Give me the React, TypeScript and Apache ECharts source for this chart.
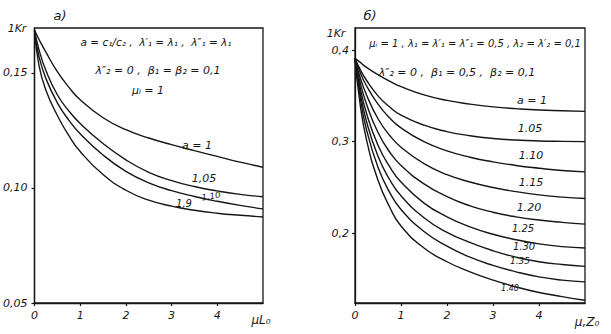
import React, { useEffect, useRef } from "react";
import * as echarts from "echarts";

// ---------- Panel а) ----------
const leftCurveNames = ["a = 1", "1,05", "1,10", "1,9"];
const leftA100: number[][] = [
  [0, 0.1685], [0.1, 0.1645], [0.25, 0.159], [0.5, 0.1505], [0.75, 0.1438], [1, 0.1383], [1.5, 0.1305],
  [2, 0.1253], [2.5, 0.1217], [3, 0.1188], [3.5, 0.1162], [4, 0.1137], [4.5, 0.1112], [5, 0.109],
];
const leftA105: number[][] = [
  [0, 0.1685], [0.1, 0.16], [0.25, 0.151], [0.5, 0.1405], [0.75, 0.1335], [1, 0.128], [1.5, 0.1193],
  [2, 0.1122], [2.5, 0.1068], [3, 0.1032], [3.5, 0.1006], [4, 0.0987], [4.5, 0.0972], [5, 0.0962],
];
const leftA110: number[][] = [
  [0, 0.1685], [0.1, 0.157], [0.25, 0.1475], [0.5, 0.137], [0.75, 0.1295], [1, 0.1235], [1.5, 0.1143],
  [2, 0.1072], [2.5, 0.1022], [3, 0.0988], [3.5, 0.0963], [4, 0.0942], [4.5, 0.0924], [5, 0.0909],
];
const leftA190: number[][] = [
  [0, 0.1685], [0.1, 0.153], [0.25, 0.1425], [0.5, 0.1315], [0.75, 0.1228], [1, 0.1158], [1.5, 0.1058],
  [2, 0.099], [2.5, 0.0947], [3, 0.0921], [3.5, 0.0903], [4, 0.089], [4.5, 0.0881], [5, 0.0874],
];
const leftYTicks = [0.05, 0.1, 0.15];
const leftYTickLabels = ["0,05", "0,10", "0,15"];

// ---------- Panel б) ----------
const rightCurveNames = ["a = 1", "1.05", "1.10", "1.15", "1.20", "1.25", "1.30", "1.35", "1.40"];
const rA100: number[][] = [
  [0, 0.391], [0.1, 0.387], [0.25, 0.381], [0.5, 0.373], [0.75, 0.366], [1, 0.36], [1.5, 0.351],
  [2, 0.345], [2.5, 0.341], [3, 0.338], [3.5, 0.336], [4, 0.3345], [4.5, 0.3337], [5, 0.333],
];
const rA105: number[][] = [
  [0, 0.391], [0.1, 0.38], [0.25, 0.367], [0.5, 0.35], [0.75, 0.338], [1, 0.329], [1.5, 0.318],
  [2, 0.311], [2.5, 0.3065], [3, 0.3035], [3.5, 0.3018], [4, 0.3008], [4.5, 0.3003], [5, 0.3],
];
const rA110: number[][] = [
  [0, 0.391], [0.1, 0.377], [0.25, 0.361], [0.5, 0.341], [0.75, 0.326], [1, 0.315], [1.5, 0.3],
  [2, 0.29], [2.5, 0.283], [3, 0.278], [3.5, 0.274], [4, 0.271], [4.5, 0.2685], [5, 0.267],
];
const rA115: number[][] = [
  [0, 0.391], [0.1, 0.372], [0.25, 0.351], [0.5, 0.325], [0.75, 0.307], [1, 0.294], [1.5, 0.276],
  [2, 0.264], [2.5, 0.256], [3, 0.25], [3.5, 0.2455], [4, 0.242], [4.5, 0.2395], [5, 0.238],
];
const rA120: number[][] = [
  [0, 0.391], [0.1, 0.367], [0.25, 0.341], [0.5, 0.31], [0.75, 0.289], [1, 0.274], [1.5, 0.254],
  [2, 0.24], [2.5, 0.23], [3, 0.223], [3.5, 0.218], [4, 0.2145], [4.5, 0.212], [5, 0.21],
];
const rA125: number[][] = [
  [0, 0.391], [0.1, 0.362], [0.25, 0.331], [0.5, 0.296], [0.75, 0.273], [1, 0.256], [1.5, 0.233],
  [2, 0.218], [2.5, 0.207], [3, 0.199], [3.5, 0.193], [4, 0.1885], [4.5, 0.1855], [5, 0.184],
];
const rA130: number[][] = [
  [0, 0.391], [0.1, 0.357], [0.25, 0.322], [0.5, 0.284], [0.75, 0.259], [1, 0.241], [1.5, 0.217],
  [2, 0.201], [2.5, 0.19], [3, 0.181], [3.5, 0.174], [4, 0.169], [4.5, 0.166], [5, 0.164],
];
const rA135: number[][] = [
  [0, 0.391], [0.1, 0.352], [0.25, 0.313], [0.5, 0.272], [0.75, 0.245], [1, 0.226], [1.5, 0.202],
  [2, 0.186], [2.5, 0.174], [3, 0.165], [3.5, 0.158], [4, 0.1525], [4.5, 0.149], [5, 0.147],
];
const rA140: number[][] = [
  [0, 0.391], [0.1, 0.345], [0.25, 0.302], [0.5, 0.258], [0.75, 0.229], [1, 0.208], [1.5, 0.184],
  [2, 0.169], [2.5, 0.158], [3, 0.149], [3.5, 0.1415], [4, 0.1355], [4.5, 0.131], [5, 0.127],
];
const rightYTicks = [0.2, 0.3, 0.4];
const rightYTickLabels = ["0,2", "0,3", "0,4"];

const xTicks = [0, 1, 2, 3, 4];

const INK = "#161616";
const FONT = "'DejaVu Sans', sans-serif";

export default function App() {
  const ref = useRef<HTMLDivElement>(null);
  useEffect(() => {
    if (!ref.current) return;
    const chart = echarts.init(ref.current, undefined, { renderer: "svg" });

    const leftData = [leftA100, leftA105, leftA110, leftA190];
    const rightData = [rA100, rA105, rA110, rA115, rA120, rA125, rA130, rA135, rA140];

    const lineSeries = (data: number[][], name: string, idx: number) => ({
      type: "line",
      name,
      xAxisIndex: idx,
      yAxisIndex: idx,
      data,
      smooth: 0.5,
      showSymbol: false,
      symbol: "none",
      lineStyle: { color: INK, width: 1.4 },
      silent: true,
    });

    const yLabelFmt = (ticks: number[], labels: string[]) => (v: number) => {
      const i = ticks.findIndex((t) => Math.abs(t - v) < 1e-6);
      return i >= 0 ? labels[i] : "";
    };

    const xAxisBase = {
      type: "value",
      min: 0,
      max: 5,
      axisLine: { show: true, lineStyle: { color: INK, width: 1.3 } },
      axisTick: { show: true, customValues: xTicks, length: 3, inside: false, lineStyle: { color: INK, width: 1.2 } },
      axisLabel: { show: true, customValues: xTicks, color: INK, fontSize: 11, fontFamily: FONT, margin: 7, fontStyle: "italic" },
      splitLine: { show: false },
    };

    const text = (x: number, y: number, t: string, size = 12, extra: any = {}) => ({
      type: "text",
      x,
      y,
      style: {
        text: t,
        fill: INK,
        font: `italic ${size}px ${FONT}`,
        textAlign: "center",
        textVerticalAlign: "middle",
      },
      ...extra,
    });

    chart.setOption({
      animation: false,
      backgroundColor: "#ffffff",
      grid: [
        { left: 34, top: 28, width: 229, height: 275, show: true, borderColor: INK, borderWidth: 1.3, backgroundColor: "transparent" },
        { left: 355, top: 28, width: 230, height: 275, show: true, borderColor: INK, borderWidth: 1.3, backgroundColor: "transparent" },
      ],
      xAxis: [
        { ...xAxisBase, gridIndex: 0 },
        { ...xAxisBase, gridIndex: 1 },
      ],
      yAxis: [
        {
          type: "value",
          gridIndex: 0,
          min: 0.05,
          max: 0.1695,
          axisLine: { show: true, lineStyle: { color: INK, width: 1.3 } },
          axisTick: { show: true, customValues: leftYTicks, length: 3, lineStyle: { color: INK, width: 1.2 } },
          axisLabel: { show: true, customValues: leftYTicks, formatter: yLabelFmt(leftYTicks, leftYTickLabels), color: INK, fontSize: 11, fontFamily: FONT, margin: 7, fontStyle: "italic" },
          splitLine: { show: false },
        },
        {
          type: "value",
          gridIndex: 1,
          min: 0.124,
          max: 0.424,
          axisLine: { show: true, lineStyle: { color: INK, width: 1.3 } },
          axisTick: { show: true, customValues: rightYTicks, length: 3, lineStyle: { color: INK, width: 1.2 } },
          axisLabel: { show: true, customValues: rightYTicks, formatter: yLabelFmt(rightYTicks, rightYTickLabels), color: INK, fontSize: 11, fontFamily: FONT, margin: 6, fontStyle: "italic" },
          splitLine: { show: false },
        },
      ],
      series: [
        ...leftData.map((d, i) => lineSeries(d, "L " + leftCurveNames[i], 0)),
        ...rightData.map((d, i) => lineSeries(d, "R " + rightCurveNames[i], 1)),
      ],
      graphic: [
        // panel titles
        text(60, 15, "а)", 13),
        text(370, 15, "б)", 13),
        // axis names
        text(17, 28, "1Kr", 11),
        text(336, 33, "1Kr", 11),
        text(261, 320, "μL₀", 12),
        text(587, 322, "μ,Z₀", 12),
        // annotations panel а)
        text(156, 42, "a = c₁/c₂ ,  λ′₁ = λ₁ ,  λ″₁ = λ₁", 10.5),
        text(158, 70, "λ″₂ = 0 ,  β₁ = β₂ = 0,1", 11),
        text(148, 90, "μᵢ = 1", 11),
        // annotations panel б)
        text(475, 43, "μᵢ = 1 , λ₁ = λ′₁ = λ″₁ = 0,5 , λ₂ = λ′₂ = 0,1", 10),
        text(457, 72, "λ″₂ = 0 ,  β₁ = 0,5 ,  β₂ = 0,1", 11),
        // curve labels panel а)
        text(197, 145, leftCurveNames[0], 11),
        text(204, 178, leftCurveNames[1], 11),
        text(211, 196, leftCurveNames[2], 8.5, { rotation: 0.15 }),
        text(184, 203, leftCurveNames[3], 10),
        // curve labels panel б)
        text(532, 100, rightCurveNames[0], 11),
        text(530, 128, rightCurveNames[1], 11),
        text(531, 155, rightCurveNames[2], 11),
        text(531, 182, rightCurveNames[3], 11),
        text(529, 207, rightCurveNames[4], 11),
        text(523, 228, rightCurveNames[5], 10),
        text(524, 246, rightCurveNames[6], 10),
        text(520, 261, rightCurveNames[7], 9),
        text(510, 288, rightCurveNames[8], 8),
      ],
    });
    return () => chart.dispose();
  }, []);
  return <div ref={ref} style={{ width: 611, height: 334, position: "absolute", left: 0, top: 0 }} />;
}
